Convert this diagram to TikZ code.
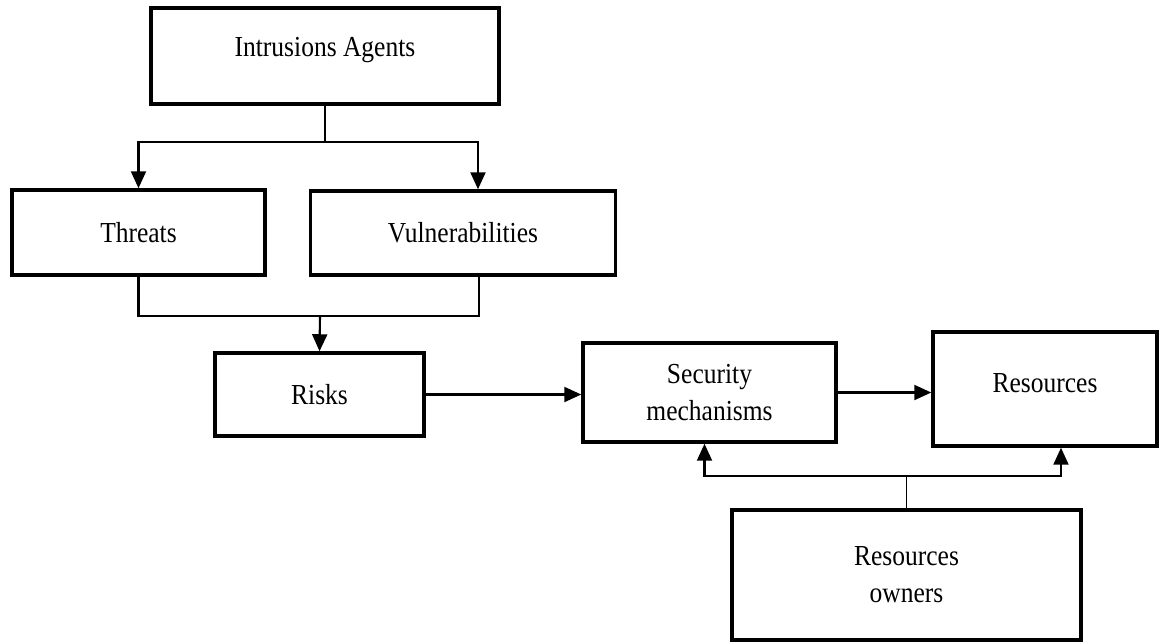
\documentclass[tikz,border=0pt]{standalone}
\usepackage{fontspec}
\setmainfont{Liberation Serif}[FakeStretch=0.88]
\usetikzlibrary{arrows.meta}

\begin{document}
\begin{tikzpicture}[
  x=0.02cm, y=-0.02cm,
  block/.style={
    draw=black, line width=2pt, align=center, inner sep=2pt,
    font=\fontsize{16.5}{21}\selectfont
  },
  link/.style={line width=1.2pt},
  arrow/.style={link, -{Triangle[length=0.34cm, width=0.3cm]}}
]
  \useasboundingbox (0,0) rectangle (1161,643);

  \node[block, minimum width=6.96cm, minimum height=1.92cm, text depth=0.37cm] (agents) at (325,56) {Intrusions Agents};
  \node[block, minimum width=5.06cm, minimum height=1.7cm] (threats) at (138.5,232.5) {Threats};
  \node[block, minimum width=6.1cm, minimum height=1.68cm] (vuln) at (463,233) {Vulnerabilities};
  \node[block, minimum width=4.18cm, minimum height=1.66cm] (risks) at (319.5,394.5) {Risks};
  \node[block, minimum width=5.06cm, minimum height=1.98cm] (secmech) at (709.5,392.5) {Security\\mechanisms};
  \node[block, minimum width=4.48cm, minimum height=2.28cm, text depth=0.24cm] (res) at (1045,389) {Resources};
  \node[block, minimum width=6.98cm, minimum height=2.6cm] (owners) at (906.5,575) {Resources\\owners};

  \coordinate (split) at (325,142);
  \coordinate (merge) at (320,316);
  \coordinate (fork) at (906.5,476);

  \draw[link] (agents.south) -- (split);
  \draw[arrow] (split) -| (threats.north);
  \draw[arrow] (split) -| ([xshift=0.3cm]vuln.north);

  \draw[link] (threats.south) |- (merge) -| ([xshift=0.32cm]vuln.south);
  \draw[arrow] (merge) -- (risks.north);

  \draw[arrow] (risks.east) -- (risks.east -| secmech.west);
  \draw[arrow] (secmech.east) -- (secmech.east -| res.west);

  \draw[link, line width=0.8pt] (owners.north) -- (fork);
  \draw[arrow] (fork) -| ([xshift=-0.1cm]secmech.south);
  \draw[arrow] (fork) -| ([xshift=0.32cm]res.south);
\end{tikzpicture}
\end{document}
